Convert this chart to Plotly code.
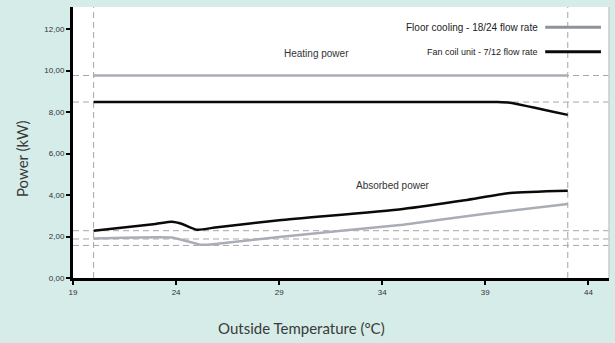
import plotly.graph_objects as go

# Data
temp_heat_floor = [20, 43]
heat_floor = [9.76, 9.76]
temp_heat_fan = [20, 30, 39.6, 40.2, 43]
heat_fan = [8.48, 8.48, 8.48, 8.45, 7.86]

temp_abs_floor = [20, 23.8, 25.2, 26, 29, 35, 39, 43]
abs_floor = [1.9, 1.95, 1.6, 1.65, 1.98, 2.57, 3.1, 3.57]
temp_abs_fan = [20, 23.0, 23.8, 24.3, 25.0, 26, 29, 35, 38, 40.2, 43]
abs_fan = [2.28, 2.6, 2.71, 2.6, 2.33, 2.45, 2.78, 3.33, 3.75, 4.1, 4.21]

ref_y = [9.76, 8.48, 2.28, 1.88, 1.57]
ref_x = [20, 43]

y_ticks = [0, 2, 4, 6, 8, 10, 12]
y_ticklabels = ["0,00", "2,00", "4,00", "6,00", "8,00", "10,00", "12,00"]
x_ticks = [19, 24, 29, 34, 39, 44]

series_names = ["Floor cooling - 18/24 flow rate", "Fan coil unit - 7/12 flow rate"]

GREY = "#a9adb5"
BLACK = "#0a0a0a"
DASH = "#a6a6a6"
BG = "#d5ece8"

fig = go.Figure()

fig.add_trace(go.Scatter(x=temp_heat_floor, y=heat_floor, mode="lines",
                         line=dict(color=GREY, width=2.5), showlegend=False))
fig.add_trace(go.Scatter(x=temp_abs_floor, y=abs_floor, mode="lines",
                         line=dict(color=GREY, width=2.5, shape="spline", smoothing=0.5),
                         showlegend=False))
fig.add_trace(go.Scatter(x=temp_heat_fan, y=heat_fan, mode="lines",
                         line=dict(color=BLACK, width=2.5, shape="spline", smoothing=0.4),
                         showlegend=False))
fig.add_trace(go.Scatter(x=temp_abs_fan, y=abs_fan, mode="lines",
                         line=dict(color=BLACK, width=2.5, shape="spline", smoothing=0.6),
                         showlegend=False))

# Reference dashed lines
for yv in ref_y:
    fig.add_shape(type="line", xref="paper", yref="y", x0=0, x1=1, y0=yv, y1=yv,
                  line=dict(color=DASH, width=1, dash="6px,4px"), layer="below")
for xv in ref_x:
    fig.add_shape(type="line", xref="x", yref="paper", x0=xv, x1=xv, y0=0, y1=1,
                  line=dict(color=DASH, width=1, dash="6px,4px"), layer="below")

# Right border
fig.add_shape(type="line", xref="paper", yref="paper", x0=1, x1=1, y0=0, y1=1,
              line=dict(color="#c8cccc", width=1.5))

# Legend (text left of line)
leg_y = [0.925, 0.835]
leg_colors = ["#8e939b", BLACK]
leg_sizes = [10, 9]
for name, ly, lc, fs in zip(series_names, leg_y, leg_colors, leg_sizes):
    fig.add_annotation(xref="paper", yref="paper", x=0.871, y=ly, text=name,
                       showarrow=False, xanchor="right", yanchor="middle",
                       font=dict(family="Liberation Sans, Arial", size=fs, color="#222"))
    fig.add_shape(type="line", xref="paper", yref="paper", x0=0.881, x1=0.985,
                  y0=ly, y1=ly, line=dict(color=lc, width=3))

fig.add_annotation(x=30.8, y=10.8, text="Heating power", showarrow=False,
                   font=dict(family="Liberation Sans, Arial", size=10, color="#333"))
fig.add_annotation(x=34.5, y=4.45, text="Absorbed power", showarrow=False,
                   font=dict(family="Liberation Sans, Arial", size=10, color="#333"))

# Axis titles
fig.add_annotation(xref="paper", yref="paper", x=(301 - 73) / 536, y=-50 / 271,
                   text="Outside Temperature (°C)", showarrow=False,
                   xanchor="center", yanchor="middle",
                   font=dict(family="Lato, Open Sans", size=15, color="#3a3a3a"))
fig.add_annotation(xref="paper", yref="paper", x=-51 / 536, y=(278 - 159) / 271,
                   text="Power (kW)", showarrow=False, textangle=-90,
                   xanchor="center", yanchor="middle",
                   font=dict(family="Lato, Open Sans", size=15, color="#3a3a3a"))

fig.update_layout(
    width=615, height=343,
    margin=dict(l=73, r=6, t=7, b=65),
    paper_bgcolor=BG, plot_bgcolor="white",
    showlegend=False,
    xaxis=dict(range=[19, 45], tickvals=x_ticks, ticktext=[str(v) for v in x_ticks],
               showgrid=False, zeroline=False, showline=True, linecolor="black",
               linewidth=3, ticks="outside", tickcolor="black", ticklen=4, tickwidth=2,
               tickfont=dict(family="Liberation Sans, Arial", size=8, color="#333")),
    yaxis=dict(range=[0, 13.06], tickvals=y_ticks, ticktext=y_ticklabels,
               showgrid=False, zeroline=False, showline=True, linecolor="black",
               linewidth=3, ticks="outside", tickcolor="black", ticklen=4, tickwidth=2,
               tickfont=dict(family="Liberation Sans, Arial", size=8, color="#333")),
)

fig.write_html("out.html")
